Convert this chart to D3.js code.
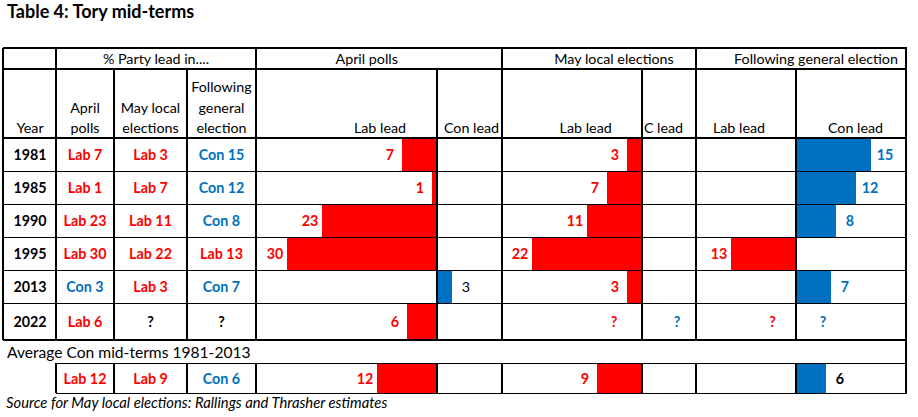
<!DOCTYPE html>
<html><head><meta charset="utf-8">
<script src="https://cdn.jsdelivr.net/npm/d3@7"></script>
<style>body{margin:0;background:#fff}svg{display:block}text{font-family:Lato,"Open Sans",sans-serif}</style>
</head><body>
<svg id="c" width="918" height="417"></svg>
<script>
// ---- data ----
const years = ["1981","1985","1990","1995","2013","2022"];
// signed leads: negative = Labour lead, positive = Conservative lead, null = unknown
const aprilPolls = [-7,-1,-23,-30,3,-6];
const mayLocal = [-3,-7,-11,-22,-3,null];
const generalElection = [15,12,8,-13,7,null];
const avgApril = -12, avgMay = -9, avgGeneral = 6;
const avgLabel = "Average Con mid-terms 1981-2013";
const title = "Table 4: Tory mid-terms";
const source = "Source for May local elections: Rallings and Thrasher estimates";

const RED = "#FF0000", BLUE = "#0070C0";
const svg = d3.select("#c");
const FS = 14.3;
const DY = 5.4;

// layout
const rowEdges = [138,171.5,204.5,237.5,270.5,303.3,340];
const avgTop = 363.3, avgBot = 393.3;

// scales (5px per point)
const xApril = d3.scaleLinear().domain([-36.2,13]).range([256,502]);
const xMay = d3.scaleLinear().domain([-28,10.8]).range([502,696]);
const xGen = d3.scaleLinear().domain([-20,22]).range([696,906]);

function leadText(v){ return v==null ? "?" : (v<0 ? "Lab "+(-v) : "Con "+v); }
function leadColor(v){ return v==null ? "#000" : (v<0 ? RED : BLUE); }

// ---- bars ----
const gBars = svg.append("g");
function bars(vals, sc, tops, bots, opts){
  vals.forEach((v,i)=>{
    if(v==null) return;
    const x0 = sc(0), x1 = sc(v);
    gBars.append("rect").attr("x",Math.min(x0,x1)).attr("y",tops[i])
      .attr("width",Math.abs(x1-x0)).attr("height",bots[i]-tops[i])
      .attr("fill", v<0?RED:BLUE);
    const cy = (tops[i]+bots[i])/2 + DY;
    const o = (opts && opts[i]) || {};
    gBars.append("text").attr("x", v<0 ? x1-12 : x1+14).attr("y",cy)
      .attr("text-anchor","middle").attr("font-size",FS)
      .attr("font-weight", o.normal ? "normal":"bold")
      .attr("fill", o.black ? "#000" : (v<0?RED:BLUE)).text(Math.abs(v));
  });
}
const tops = rowEdges.slice(0,6), bots = rowEdges.slice(1);
bars(aprilPolls, xApril, tops, bots, {4:{black:true,normal:true}});
bars(mayLocal, xMay, tops, bots);
bars(generalElection, xGen, tops, bots);
bars([avgApril],xApril,[avgTop],[avgBot]);
bars([avgMay],xMay,[avgTop],[avgBot]);
bars([avgGeneral],xGen,[avgTop],[avgBot],{0:{black:true}});

// unknown markers
const qy = (rowEdges[5]+rowEdges[6])/2 + DY;
[[xMay(0)-28,RED],[xMay(0)+35,BLUE],[xGen(0)-23.5,RED],[xGen(0)+27,BLUE]].forEach(([x,c])=>{
  svg.append("text").attr("x",x).attr("y",qy).attr("text-anchor","middle")
    .attr("font-size",FS).attr("font-weight","bold").attr("fill",c).text("?");
});

// ---- grid ----
const gl = svg.append("g").attr("stroke","#000").attr("stroke-width",1.2).attr("shape-rendering","crispEdges");
function hl(x1,x2,y){ gl.append("line").attr("x1",x1).attr("x2",x2).attr("y1",y).attr("y2",y); }
function vl(x,y1,y2){ gl.append("line").attr("x1",x).attr("x2",x).attr("y1",y1).attr("y2",y2); }
[48,69].concat(rowEdges).forEach(y=>hl(3,906.5,y));
hl(56,906.5,avgTop); hl(56,906.5,avgBot);
vl(3,48,340); vl(906,48,avgBot);
[56,256,502,696].forEach(x=>{ vl(x,48,340); vl(x,avgTop,avgBot); });
[114,187,437,642,796].forEach(x=>{ vl(x,69,340); vl(x,avgTop,avgBot); });

// ---- text ----
function t(x,y,s,o){
  o=o||{};
  return svg.append("text").attr("x",x).attr("y",y).attr("text-anchor",o.anchor||"middle")
    .attr("font-size",o.size||FS).attr("font-weight",o.bold?"bold":"normal")
    .attr("font-style",o.italic?"italic":"normal").attr("fill",o.fill||"#000").text(s);
}
t(7,18,title,{anchor:"start",bold:true,size:18});
t(156,64,"% Party lead in....");
t(366.7,64,"April polls");
t(614,64,"May local elections");
t(816,64,"Following general election");
t(30,133,"Year");
t(85,112.5,"April"); t(85,133,"polls");
t(150.5,112.5,"May local"); t(150.5,133,"elections");
t(221.5,91.5,"Following"); t(221.5,112.5,"general"); t(221.5,133,"election");
t(380,133,"Lab lead"); t(471.5,133,"Con lead");
t(585.7,133,"Lab lead"); t(663.5,133,"C lead");
t(739,133,"Lab lead"); t(855.5,133,"Con lead");

years.forEach((y,i)=>{
  const cy=(rowEdges[i]+rowEdges[i+1])/2+DY;
  t(30,cy,y,{bold:true});
  t(85,cy,leadText(aprilPolls[i]),{bold:true,fill:leadColor(aprilPolls[i])});
  t(150.5,cy,leadText(mayLocal[i]),{bold:true,fill:leadColor(mayLocal[i])});
  t(221.5,cy,leadText(generalElection[i]),{bold:true,fill:leadColor(generalElection[i])});
});
t(7,357.5,avgLabel,{anchor:"start",size:15.6});
const ay=(avgTop+avgBot)/2+DY;
t(85,ay,leadText(avgApril),{bold:true,fill:leadColor(avgApril)});
t(150.5,ay,leadText(avgMay),{bold:true,fill:leadColor(avgMay)});
t(221.5,ay,leadText(avgGeneral),{bold:true,fill:leadColor(avgGeneral)});
t(6,408,source,{anchor:"start",italic:true,size:14.8});
</script>
</body></html>
